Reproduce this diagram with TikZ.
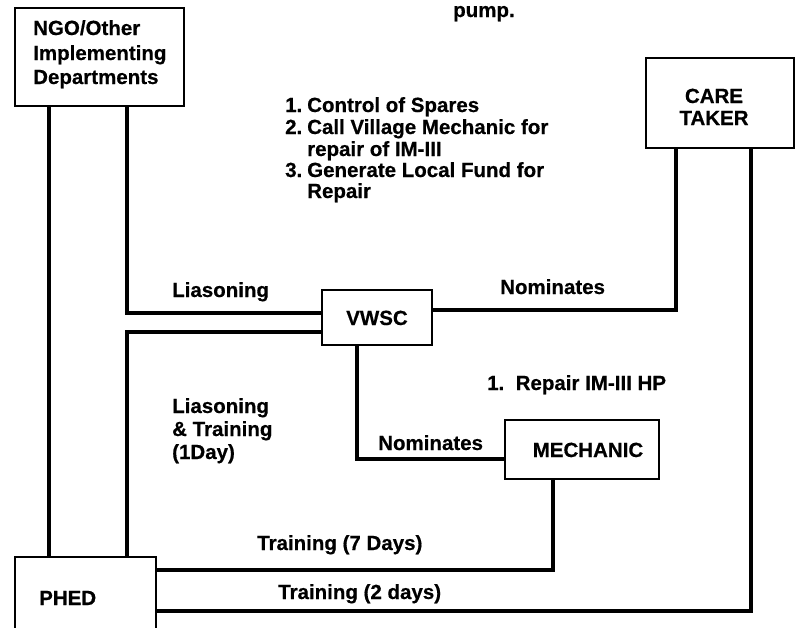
\documentclass[tikz,border=0pt]{standalone}
\usepackage{fontspec}
\setmainfont{Liberation Sans}[BoldFeatures={FakeBold=0.5}]
\begin{document}
\begin{tikzpicture}[x=1pt,y=-1pt,
  box/.style={draw, line width=1.3pt, inner sep=0pt},
  conn/.style={line width=3.5pt, line join=miter},
  lbl/.style={font=\bfseries\fontsize{20.5}{22}\selectfont, inner sep=0pt, anchor=base west},
  clbl/.style={font=\bfseries\fontsize{20.5}{22}\selectfont, inner sep=0pt, anchor=base}]
\useasboundingbox (0,0) rectangle (797,627);
% boxes
\node[box, minimum width=169, minimum height=98] (ngo) at (99.5,57) {};
\node[box, minimum width=148, minimum height=90] (care) at (720,103) {};
\node[box, minimum width=110, minimum height=55] (vwsc) at (377,317.5) {};
\node[box, minimum width=154, minimum height=59] (mech) at (582,449.5) {};
\node[box, minimum width=141, minimum height=75] (phed) at (85.5,594.5) {};
% box texts
\node[lbl] (ngo1) at (33,35) {NGO/Other};
\node[lbl] (ngo2) at (33,60) {Implementing};
\node[lbl] (ngo3) at (33,84) {Departments};
\node[clbl] (care1) at (714,103) {CARE};
\node[clbl] (care2) at (714,125) {TAKER};
\node[clbl] (vwsct) at (377,325) {VWSC};
\node[clbl] (mecht) at (588,457) {MECHANIC};
\node[lbl] (phedt) at (39,605) {PHED};
% free texts
\node[lbl] (pump) at (453,17) {pump.};
\node[lbl] (n1) at (285,112) {1.};
\node[lbl] (t1) at (307,112) {Control of Spares};
\node[lbl] (n2) at (285,134) {2.};
\node[lbl] (t2) at (307,134) {Call Village Mechanic for};
\node[lbl] (t2b) at (307,156) {repair of IM-III};
\node[lbl] (n3) at (285,177) {3.};
\node[lbl] (t3) at (307,177) {Generate Local Fund for};
\node[lbl] (t3b) at (307,198) {Repair};
\node[lbl] (lias) at (172,297) {Liasoning};
\node[lbl] (nom1) at (500,294) {Nominates};
\node[lbl] (lt1) at (172,413) {Liasoning};
\node[lbl] (lt2) at (172,436) {\& Training};
\node[lbl] (lt3) at (172,459) {(1Day)};
\node[lbl] (nom2) at (378,450) {Nominates};
\node[lbl] (rep) at (487,390) {1.\ \ Repair IM-III HP};
\node[lbl] (tr7) at (257,550) {Training (7 Days)};
\node[lbl] (tr2) at (278,599) {Training (2 days)};
% helper coordinates
\coordinate (xa) at (49,0);
\coordinate (xb) at (127,0);
\coordinate (yl) at (0,313);
\coordinate (yl2) at (0,332);
\coordinate (yn) at (0,310);
\coordinate (xc) at (676,0);
\coordinate (xd) at (751,0);
\coordinate (ye) at (0,611);
\coordinate (xf) at (357,0);
\coordinate (yg) at (0,459);
\coordinate (xh) at (553,0);
\coordinate (yi) at (0,570);
% connectors
\draw[conn] (ngo.south -| xa) -- (phed.north -| xa);
\draw[conn] (ngo.south -| xb) |- (vwsc.west |- yl);
\draw[conn] (vwsc.west |- yl2) -| (phed.north -| xb);
\draw[conn] (vwsc.east |- yn) -| (care.south -| xc);
\draw[conn] (care.south -| xd) |- (phed.east |- ye);
\draw[conn] (vwsc.south -| xf) |- (mech.west |- yg);
\draw[conn] (mech.south -| xh) |- (phed.east |- yi);
\end{tikzpicture}
\end{document}
